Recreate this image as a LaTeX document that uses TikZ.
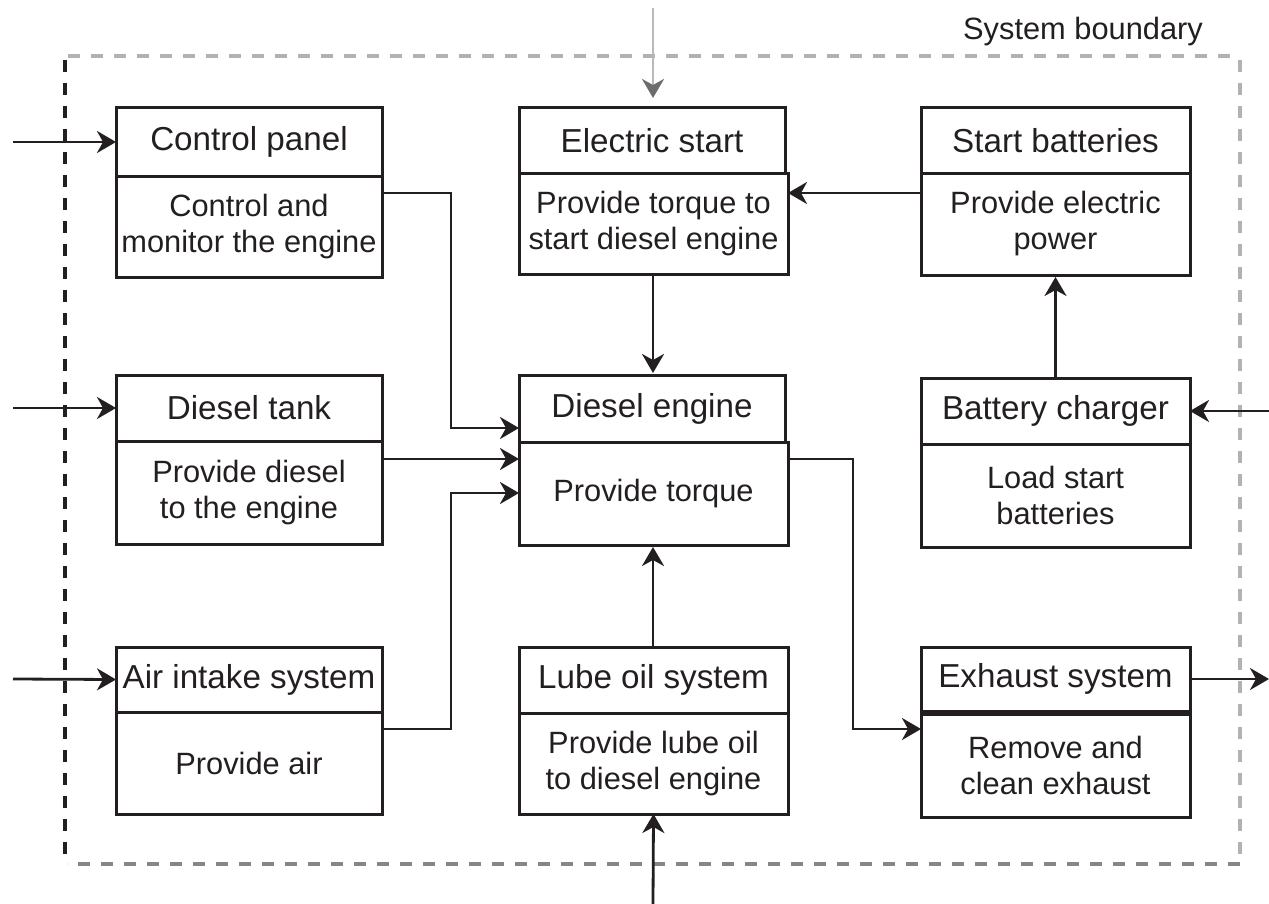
\documentclass[tikz,border=0pt]{standalone}
\usepackage{fontspec}
\setmainfont{Liberation Sans}
\usetikzlibrary{arrows.meta}
\definecolor{ink}{HTML}{231F20}
\def\px{0.5pt}
\tikzset{
  hd/.style={draw=ink, line width=1.5pt, inner sep=0pt, outer sep=0pt,
    anchor=north west, align=center, text=ink,
    font=\fontsize{16.6}{18}\selectfont},
  bd/.style={hd, font=\fontsize{15.4}{18}\selectfont},
  tip/.style={-{Stealth[length=9.5pt,width=11pt,inset=3pt]}},
  arr/.style={draw=ink, line width=1.4pt, tip},
  bnd/.style={line width=1.8pt, dash pattern=on 6pt off 5.5pt},
}
\begin{document}
\begin{tikzpicture}[x=0.5pt,y=-0.5pt]
\useasboundingbox (0,0) rectangle (1269,904);

% system boundary, each side in its own shade
\draw[bnd, draw=gray!60] (68,56) -- (1240,56);
\draw[bnd, draw=gray!60] (1240,60) -- (1240,864);
\draw[bnd, draw=gray!95] (1240,864) -- (67,864);
\draw[bnd, draw=ink] (65,60) -- (65,860);
\node[text=ink, font=\fontsize{15.4}{18}\selectfont] (sysb) at (1083,32) {System boundary};

% left column
\node[hd, minimum width=266*\px, minimum height=68*\px] (cpT) at (116,108) {Control panel};
\node[bd, minimum width=266*\px, minimum height=101*\px] (cpB) at (116,176) {Control and\\monitor the engine};
\node[hd, minimum width=266*\px, minimum height=66*\px] (dtT) at (116,375) {Diesel tank};
\node[bd, minimum width=266*\px, minimum height=103*\px] (dtB) at (116,441) {Provide diesel\\to the engine};
\node[hd, minimum width=266*\px, minimum height=65*\px] (aiT) at (116,647) {Air intake system};
\node[bd, minimum width=266*\px, minimum height=102*\px] (aiB) at (116,712) {Provide air};

% middle column
\node[hd, minimum width=266*\px, minimum height=65*\px] (esT) at (519,108) {Electric start};
\node[bd, minimum width=269*\px, minimum height=101*\px] (esB) at (519,173) {Provide torque to\\start diesel engine};
\node[hd, minimum width=266*\px, minimum height=67*\px] (deT) at (519,375) {Diesel engine};
\node[bd, minimum width=269*\px, minimum height=103*\px] (deB) at (519,442) {Provide torque};
\node[hd, minimum width=269*\px, minimum height=66*\px] (loT) at (519,647) {Lube oil system};
\node[bd, minimum width=269*\px, minimum height=101*\px] (loB) at (519,713) {Provide lube oil\\to diesel engine};

% right column
\node[hd, minimum width=269*\px, minimum height=65*\px] (sbT) at (921,108) {Start batteries};
\node[bd, minimum width=269*\px, minimum height=102*\px] (sbB) at (921,173) {Provide electric\\power};
\node[hd, minimum width=269*\px, minimum height=66*\px] (bcT) at (921,378) {Battery charger};
\node[bd, minimum width=269*\px, minimum height=103*\px] (bcB) at (921,444) {Load start\\batteries};
\node[hd, minimum width=269*\px, minimum height=64*\px] (exT) at (921,647) {Exhaust system};
\node[bd, minimum width=269*\px, minimum height=103*\px] (exB) at (921,714) {Remove and\\clean exhaust};

% free ends and bend points
\coordinate (cpin) at (13,142);
\coordinate (dtin) at (13,408);
\coordinate (aiin) at (13,679);
\coordinate (esin) at (653,8);
\coordinate (loin) at (653,904);
\coordinate (bcin) at (1269,411);
\coordinate (exout) at (1269,679);
\coordinate (k1) at (451,428);
\coordinate (k2) at (451,493);
\coordinate (k3) at (853,729);

% inputs from outside
\draw[arr] (cpin) -- (cpT.west);
\draw[arr] (dtin) -- (dtT.west);
\draw[arr] (aiin) -- (aiT.west);
\draw[arr] (bcin) -- (bcT.east);
\draw[arr] (loin) -- (loB.south);
\draw[line width=1.4pt, draw=gray!55, shorten >=5pt,
  -{Stealth[length=9.5pt,width=11pt,inset=3pt,color=gray!85!black]}]
  (esin) -- (esin |- esT.north);

% internal flows
\draw[arr] ([yshift=-20*\px]sbB.north west) -- ([yshift=-20*\px]esB.north east);
\draw[arr, shorten >=1pt] (esB.south -| esin) -- (esin |- deT.north);
\draw[arr] ([yshift=-17*\px]cpB.north east) -| (k1) -- (k1 -| deT.west);
\draw[arr] ([yshift=-18*\px]dtB.north east) coordinate (k4) -- (k4 -| deB.west);
\draw[arr] ([yshift=-17*\px]aiB.north east) -| (k2) -- (k2 -| deB.west);
\draw[arr, shorten >=1pt] (loT.north -| esin) -- (esin |- deB.south);
\draw[arr, shorten >=1pt] (bcT.north) -- (sbB.south);
\draw[arr] ([yshift=-17*\px]deB.north east) -| (k3) -- (k3 -| exB.west);
\draw[arr] (exT.east) -- (exout);
\end{tikzpicture}
\end{document}
